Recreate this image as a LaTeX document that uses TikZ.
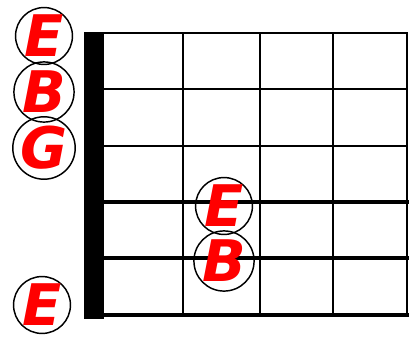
\documentclass[tikz,border=0pt]{standalone}
\usepackage{fontspec}
\setsansfont{DejaVu Sans}
\definecolor{notered}{HTML}{FF0000}
\newcommand{\notefont}{\fontsize{43}{43}\selectfont\sffamily\bfseries\itshape}
\tikzset{saite/.style={line width=#1,line cap=rect},
  bund/.style={line width=1.6pt},
  ton/.style={circle,draw,line width=1.1pt,minimum size=39pt,inner sep=0pt,
    text=notered,font=\notefont,text height=31pt,text depth=0pt}}
\begin{document}
\begin{tikzpicture}[x=0.75pt,y=-0.75pt]
\useasboundingbox (0,0) rectangle (416,339);
% Saiten
\foreach \y/\w in {33/1.5pt,89/1.7pt,146/2.2pt,202/2.5pt,258/2.6pt,315/3pt}
  \draw[saite=\w] (100,\y) -- (407,\y);
% Bünde
\foreach \x in {183,260,333,407}
  \draw[bund] (\x,33) -- (\x,315);
% Sattel
\fill[black] (84,32) rectangle (104,319);
% Leersaiten
\node[ton] (leerE) at (44,36) {E};
\node[ton] (leerB) at (44,92) {B};
\node[ton] (leerG) at (44,148) {G};
\node[ton] (tiefE) at (42,305) {E};
% gegriffene Töne
\node[ton] (griffE) at (224,206) {E};
\node[ton] (griffB) at (224,261) {B};
\end{tikzpicture}
\end{document}
